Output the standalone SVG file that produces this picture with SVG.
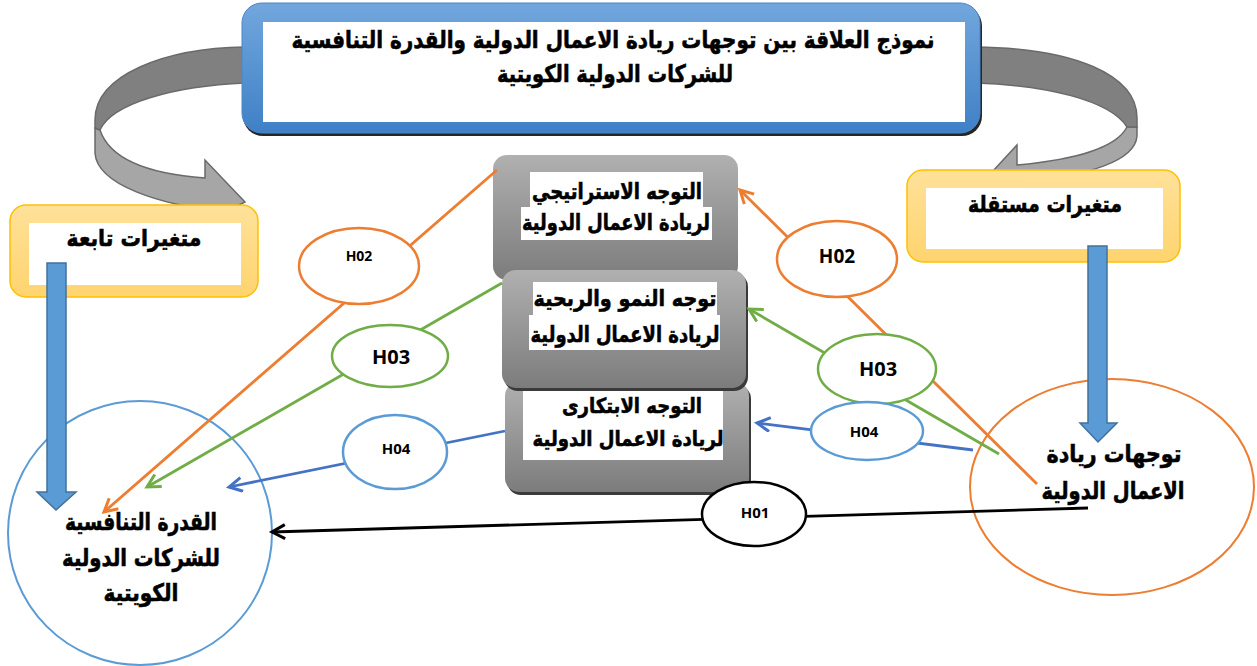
<svg xmlns="http://www.w3.org/2000/svg" width="1257" height="666" viewBox="0 0 1257 666">
<defs>
<linearGradient id="gBlue" x1="0" y1="0" x2="0" y2="1"><stop offset="0" stop-color="#72a7dd"/><stop offset="1" stop-color="#3f80c6"/></linearGradient>
<linearGradient id="gYel" x1="0" y1="0" x2="0" y2="1"><stop offset="0" stop-color="#ffe19a"/><stop offset="1" stop-color="#ffd46e"/></linearGradient>
<linearGradient id="gGray" x1="0" y1="0" x2="0" y2="1"><stop offset="0" stop-color="#b0b0b0"/><stop offset="1" stop-color="#7c7c7c"/></linearGradient>
<marker id="mBlack" markerUnits="userSpaceOnUse" markerWidth="20" markerHeight="20" refX="14" refY="8" orient="auto"><path d="M1,1 L14,8 L1,15" fill="none" stroke="#000" stroke-width="3"/></marker>
<marker id="mOrange" markerUnits="userSpaceOnUse" markerWidth="20" markerHeight="20" refX="14" refY="8" orient="auto"><path d="M1,1 L14,8 L1,15" fill="none" stroke="#ed7d31" stroke-width="3"/></marker>
<marker id="mGreen" markerUnits="userSpaceOnUse" markerWidth="20" markerHeight="20" refX="14" refY="8" orient="auto"><path d="M1,1 L14,8 L1,15" fill="none" stroke="#70ad47" stroke-width="3"/></marker>
<marker id="mBlue" markerUnits="userSpaceOnUse" markerWidth="20" markerHeight="20" refX="14" refY="8" orient="auto"><path d="M1,1 L14,8 L1,15" fill="none" stroke="#4472c4" stroke-width="3"/></marker>
</defs>
<style>
.ar{font-family:"DejaVu Sans","Noto Sans",sans-serif;font-weight:bold;fill:#000;stroke:#000;stroke-width:0.6;text-anchor:middle}
.h{font-family:"Open Sans","Liberation Sans",sans-serif;font-weight:bold;fill:#000;text-anchor:middle}
.ribD{fill:#808080;stroke:#6a6a6a;stroke-width:1.5}
.ribL{fill:#a6a6a6;stroke:#6a6a6a;stroke-width:1.5}
.yel{fill:url(#gYel);stroke:#ffc000;stroke-width:1.5}
.gbox{fill:url(#gGray)}
.shadow{fill:#3a3a3a}
.con{fill:none;stroke-width:2.8}
.hel{fill:#fff;stroke-width:2.5}
.thick{fill:#5b9bd5;stroke:#41719c;stroke-width:1.5}
</style>

<g id="curl-left">
<path class="ribL" d="M95,128 L95,153 C97,185 160,205 225,212 L245,202 L205,160 L205,178 C150,174 110,160 100,130 Z"/>
<path class="ribD" d="M245,47 C165,48 95,75 95,120 L95,128 L100,130 C112,103 175,86 245,83 Z"/>
</g>
<g id="curl-right">
<path class="ribL" d="M1137,127 L1137,136 C1135,162 1085,175 1035,180 L992,172 L1017,145 L1017,165 C1070,160 1115,150 1127,127 Z"/>
<path class="ribD" d="M975,47 C1075,48 1137,75 1137,118 L1137,127 L1127,127 C1110,100 1045,85 975,83 Z"/>
</g>

<g id="title">
<rect x="243" y="6" width="739" height="130" rx="20" fill="#262626"/>
<rect x="242" y="3" width="738" height="130" rx="20" fill="url(#gBlue)" stroke="#4a86c8" stroke-width="1"/>
<rect x="263" y="22" width="702" height="100" fill="#fff"/>
<text class="ar" x="613" y="48" font-size="24" textLength="643" lengthAdjust="spacingAndGlyphs">نموذج العلاقة بين توجهات ريادة الاعمال الدولية والقدرة التنافسية</text>
<text class="ar" x="615" y="82" font-size="24" textLength="236" lengthAdjust="spacingAndGlyphs">للشركات الدولية الكويتية</text>
</g>

<g id="dep-label">
<rect class="yel" x="10" y="205" width="248" height="92" rx="16"/>
<rect x="29" y="223" width="212" height="62" fill="#fff"/>
<text class="ar" x="134" y="246" font-size="23" textLength="135" lengthAdjust="spacingAndGlyphs">متغيرات تابعة</text>
</g>
<g id="indep-label">
<rect class="yel" x="907" y="170" width="273" height="92" rx="16"/>
<rect x="926" y="188" width="237" height="61" fill="#fff"/>
<text class="ar" x="1045" y="212" font-size="23" textLength="154" lengthAdjust="spacingAndGlyphs">متغيرات مستقلة</text>
</g>

<g id="competitiveness">
<circle cx="140" cy="533" r="132" fill="none" stroke="#5b9bd5" stroke-width="2"/>
<text class="ar" x="141" y="530" font-size="24" textLength="152" lengthAdjust="spacingAndGlyphs">القدرة التنافسية</text>
<text class="ar" x="141" y="566" font-size="24" textLength="158" lengthAdjust="spacingAndGlyphs">للشركات الدولية</text>
<text class="ar" x="141" y="601" font-size="24" textLength="75" lengthAdjust="spacingAndGlyphs">الكويتية</text>
</g>
<g id="entrepreneurship">
<ellipse cx="1112" cy="487" rx="142" ry="108" fill="none" stroke="#ed7d31" stroke-width="2"/>
<text class="ar" x="1114" y="462" font-size="24" textLength="135" lengthAdjust="spacingAndGlyphs">توجهات ريادة</text>
<text class="ar" x="1113" y="499" font-size="24" textLength="143" lengthAdjust="spacingAndGlyphs">الاعمال الدولية</text>
</g>

<g id="thick-arrows">
<path class="thick" d="M47,263 L66,263 L66,492 L76,492 L56,510 L37,492 L47,492 Z"/>
<path class="thick" d="M1088,246 L1107,246 L1107,423 L1117,423 L1098,442 L1080,423 L1088,423 Z"/>
</g>

<g id="strategic">
<rect x="493" y="155" width="245" height="125" rx="14" class="gbox"/>
<rect x="530" y="172" width="173" height="35" fill="#fff"/>
<rect x="521" y="207" width="191" height="33" fill="#fff"/>
<text class="ar" x="617" y="199" font-size="22" textLength="170" lengthAdjust="spacingAndGlyphs">التوجه الاستراتيجي</text>
<text class="ar" x="616" y="230" font-size="22" textLength="188" lengthAdjust="spacingAndGlyphs">لريادة الاعمال الدولية</text>
</g>
<g id="innovative">
<rect x="507" y="385" width="244" height="110" rx="14" class="shadow"/>
<rect x="505" y="382" width="244" height="110" rx="14" class="gbox"/>
<rect x="523" y="390" width="200" height="70" fill="#fff"/>
<text class="ar" x="632" y="413" font-size="21" textLength="140" lengthAdjust="spacingAndGlyphs">التوجه الابتكارى</text>
<text class="ar" x="628" y="446" font-size="21" textLength="191" lengthAdjust="spacingAndGlyphs">لريادة الاعمال الدولية</text>
</g>
<g id="growth">
<rect x="504" y="273" width="244" height="118" rx="14" class="shadow"/>
<rect x="502" y="270" width="244" height="118" rx="14" class="gbox"/>
<rect x="533" y="282" width="184" height="33" fill="#fff"/>
<rect x="529" y="315" width="191" height="35" fill="#fff"/>
<text class="ar" x="625" y="306" font-size="22" textLength="183" lengthAdjust="spacingAndGlyphs">توجه النمو والربحية</text>
<text class="ar" x="625" y="342" font-size="22" textLength="189" lengthAdjust="spacingAndGlyphs">لريادة الاعمال الدولية</text>
</g>

<g id="connectors">
<path class="con" stroke="#000" d="M1088,508 L272,532" marker-end="url(#mBlack)"/>
<path class="con" stroke="#ed7d31" d="M1037,484 L740,190" marker-end="url(#mOrange)"/>
<path class="con" stroke="#ed7d31" d="M497,170 L104,512" marker-end="url(#mOrange)"/>
<path class="con" stroke="#70ad47" d="M502,283 L147,487" marker-end="url(#mGreen)"/>
<path class="con" stroke="#70ad47" d="M999,454 L749,309" marker-end="url(#mGreen)"/>
<path class="con" stroke="#4472c4" d="M505,431 L229,487" marker-end="url(#mBlue)"/>
<path class="con" stroke="#4472c4" d="M973,450 L757,423" marker-end="url(#mBlue)"/>
</g>

<g id="h02-left"><ellipse class="hel" cx="359" cy="266" rx="60" ry="38" stroke="#ed7d31"/><text class="h" x="359" y="261" font-size="14">H02</text></g>
<g id="h03-left"><ellipse class="hel" cx="390" cy="356" rx="58" ry="31" stroke="#70ad47"/><text class="h" x="391" y="364" font-size="20">H03</text></g>
<g id="h04-left"><ellipse class="hel" cx="395" cy="452" rx="52" ry="37" stroke="#5b9bd5"/><text class="h" x="396" y="454" font-size="15">H04</text></g>
<g id="h02-right"><ellipse class="hel" cx="837" cy="259" rx="60" ry="38" stroke="#ed7d31"/><text class="h" x="837" y="263" font-size="19">H02</text></g>
<g id="h03-right"><ellipse class="hel" cx="877" cy="369" rx="59" ry="35" stroke="#70ad47"/><text class="h" x="878" y="376" font-size="20">H03</text></g>
<g id="h04-right"><ellipse class="hel" cx="867" cy="431" rx="56" ry="29" stroke="#5b9bd5"/><text class="h" x="864" y="437" font-size="15">H04</text></g>
<g id="h01"><ellipse class="hel" cx="754" cy="514" rx="52" ry="32" stroke="#000"/><text class="h" x="755" y="518" font-size="15">H01</text></g>
</svg>
